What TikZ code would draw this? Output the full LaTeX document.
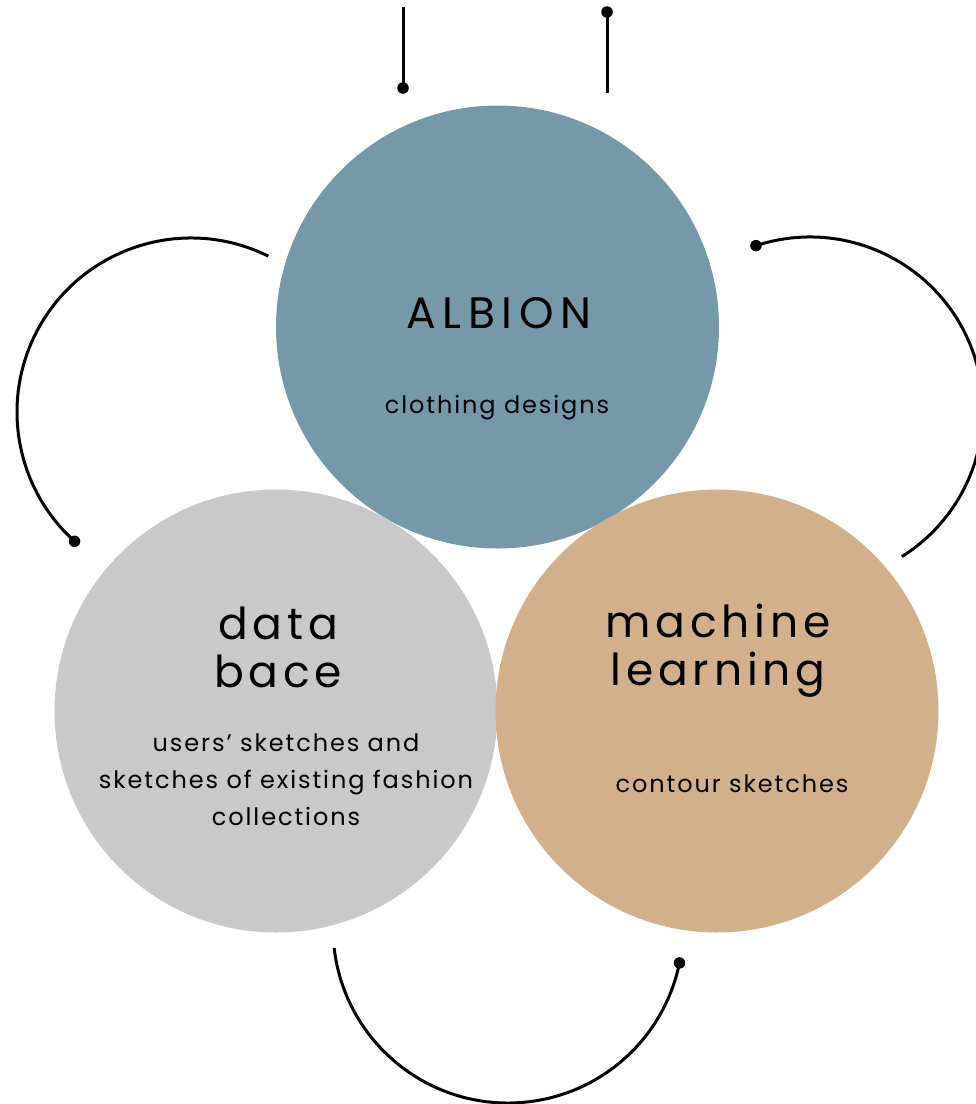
\documentclass[tikz,border=0pt]{standalone}
\usepackage{fontspec}
\setmainfont{Poppins}
\newfontfamily\titlefont{Poppins}[LetterSpace=11]
\newfontfamily\capsfont{Poppins}[LetterSpace=15]
\newfontfamily\subfont{Poppins}[LetterSpace=8]
\usetikzlibrary{calc}
\begin{document}
\begin{tikzpicture}[x=1pt,y=-1pt,
  bubble/.style={circle,inner sep=0pt,minimum size=443pt},
  title/.style={font=\titlefont\fontsize{44}{48}\selectfont,align=center,anchor=base,inner sep=0pt},
  sub/.style={font=\subfont\fontsize{24}{37}\selectfont,align=center,anchor=base,inner sep=0pt},
  wire/.style={line width=3pt,black},
  dot/.style={circle,fill=black,inner sep=0pt,minimum size=11.5pt}]
\definecolor{cblue}{RGB}{117,153,169}
\definecolor{cgray}{RGB}{201,201,201}
\definecolor{ctan}{RGB}{210,176,139}
\useasboundingbox (0,0) rectangle (976,1104);
\clip (0,0) rectangle (976,1104);
% circles
\node[bubble,fill=cblue] (albion) at (497.5,327) {};
\node[bubble,fill=cgray] (data) at (276,711) {};
\node[bubble,fill=ctan] (ml) at (717,711) {};
% texts
\node[title,font=\capsfont\fontsize{44}{48}\selectfont] (t1) at (499,328) {ALBION};
\node[sub] (s1) at (497,413) {clothing designs};
\node[title] (t2) at (278,687) {data\\bace};
\node[sub] (s2) at (286,825) {users’ sketches and\\sketches of existing fashion\\collections};
\node[title] (t3) at (718,685) {machine\\learning};
\node[sub] (s3) at (732,792) {contour sketches};
% vertical lines
\node[dot] (d1) at (403,88) {};
\coordinate (e1) at (403,7);
\draw[wire] (e1) -- (d1.center);
\node[dot] (d2) at (607,12) {};
\coordinate (e2) at (607,93);
\draw[wire] (d2.center) -- (e2);
% arcs
\coordinate (cl) at (191,412);
\coordinate (cr) at (810,410);
\coordinate (cb) at (508,928);
\node[dot] (d3) at ($(cl)+(132:174)$) {};
\node[dot] (d4) at ($(cr)+(-108.2:173)$) {};
\node[dot] (d5) at ($(cb)+(11.5:175)$) {};
\draw[wire] (cl) ++(-63.6:174) arc[start angle=-63.6,end angle=-228,radius=174];
\draw[wire] (d4.center) arc[start angle=-108.2,end angle=57.9,radius=173];
\draw[wire] (cb) ++(173.4:175) arc[start angle=173.4,end angle=11.5,radius=175];
\end{tikzpicture}
\end{document}
